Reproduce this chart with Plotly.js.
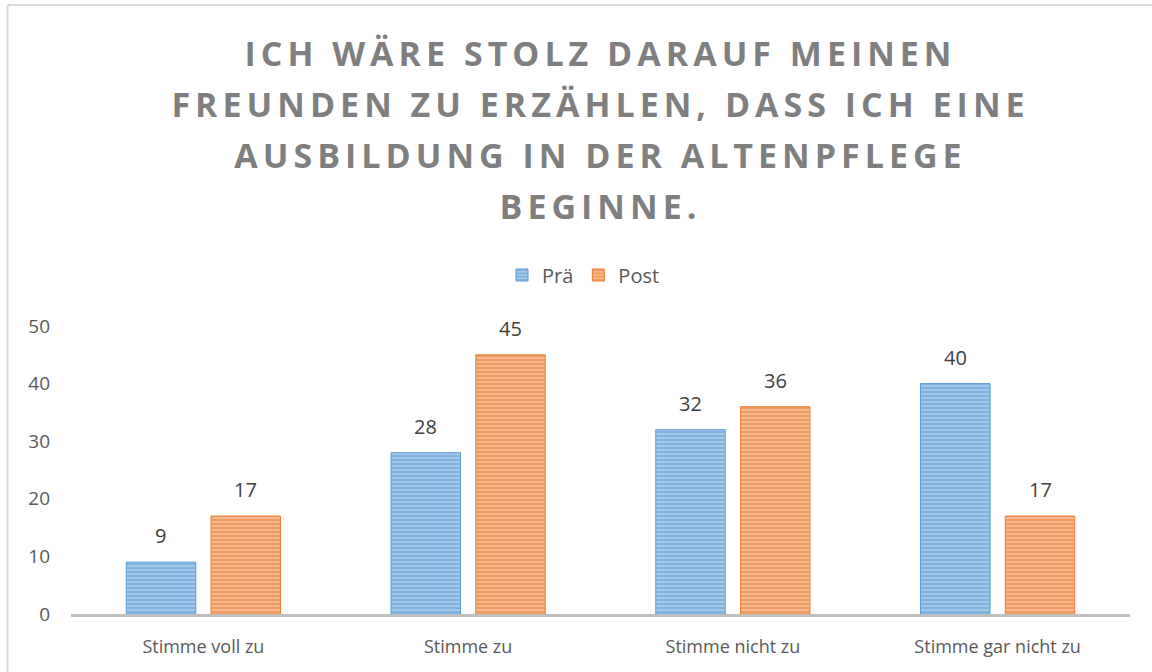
<!DOCTYPE html>
<html>
<head>
<meta charset="utf-8">
<script src="https://cdn.plot.ly/plotly-3.0.1.min.js"></script>
<style>
html, body { margin:0; padding:0; background:#fff; }
#chart { width:1152px; height:672px; }
.gtitle { letter-spacing: 5px; }
</style>
</head>
<body>
<div id="chart"></div>
<script>
const categories = ["Stimme voll zu", "Stimme zu", "Stimme nicht zu", "Stimme gar nicht zu"];
const seriesNames = ["Prä", "Post"];
const praValues = [9, 28, 32, 40];
const postValues = [17, 45, 36, 17];
const yTicks = [0, 10, 20, 30, 40, 50];
const titleText = "ICH WÄRE STOLZ DARAUF MEINEN<br>FREUNDEN ZU ERZÄHLEN, DASS ICH EINE<br>AUSBILDUNG IN DER ALTENPFLEGE<br>BEGINNE.";

const W = 1152, H = 672;
const margin = {l: 70.5, r: 21.5, t: 326, b: 58};
const plotW = W - margin.l - margin.r;
const plotH = H - margin.t - margin.b;
const bargap = 0.36, bargroupgap = 0.18;
const catW = plotW / categories.length;
const slotW = catW * (1 - bargap) / 2;

const font = "Open Sans, Noto Sans, sans-serif";

function mkTrace(name, vals, fg, bg) {
  return {
    type: 'bar', name: name, x: categories, y: vals,
    marker: {
      color: bg,
      line: {color: fg, width: 1},
      pattern: {shape: '-', fgcolor: fg, bgcolor: bg, size: 4, solidity: 0.5, fillmode: 'overlay'}
    },
    hoverinfo: 'none'
  };
}

const traces = [
  mkTrace(seriesNames[0], praValues, '#5B9BD5', '#A4C8EA'),
  mkTrace(seriesNames[1], postValues, '#ED7D31', '#F6B88F')
];

const annotations = [];
[praValues, postValues].forEach((vals, si) => {
  const shift = (si === 0 ? -1 : 1) * slotW / 2;
  vals.forEach((v, i) => {
    annotations.push({
      x: categories[i], y: v, xref: 'x', yref: 'y',
      text: String(v), showarrow: false,
      xshift: shift, yshift: 11, yanchor: 'bottom',
      font: {family: font, size: 20, color: '#404040'}
    });
  });
});

const layout = {
  width: W, height: H,
  margin: margin,
  paper_bgcolor: '#fff', plot_bgcolor: '#fff',
  font: {family: font, color: '#595959'},
  title: {
    text: titleText,
    font: {family: font, size: 34, color: '#7F7F7F', weight: 'bold'},
    x: 0.5, xanchor: 'center', xref: 'paper',
    y: 1 - 66 / H, yanchor: 'top', yref: 'container'
  },
  barmode: 'group', bargap: bargap, bargroupgap: bargroupgap,
  showlegend: true,
  legend: {
    orientation: 'h', x: 0.5 - 17 / plotW, xanchor: 'center',
    y: (H - margin.b - 275) / plotH, yanchor: 'middle',
    font: {family: font, size: 20, color: '#595959'},
    itemwidth: 30, traceorder: 'normal'
  },
  xaxis: {
    type: 'category', showgrid: false, zeroline: false,
    showline: true, linecolor: '#BFBFBF', linewidth: 3,
    ticks: '', ticklabelstandoff: 14,
    tickfont: {family: font, size: 18, color: '#595959'},
    fixedrange: true
  },
  yaxis: {
    range: [0, 50], tickvals: yTicks, showgrid: false, zeroline: false,
    showline: false, ticks: '', ticklabelstandoff: 20,
    tickfont: {family: font, size: 19, color: '#595959'},
    fixedrange: true
  },
  annotations: annotations,
  shapes: [
    {type: 'line', xref: 'paper', yref: 'paper', layer: 'below',
     x0: (7 - margin.l) / plotW, x1: (7 - margin.l) / plotW,
     y0: (H - margin.b - 5) / plotH, y1: (H - margin.b - 700) / plotH,
     line: {color: '#D9D9D9', width: 2}},
    {type: 'line', xref: 'paper', yref: 'paper', layer: 'below',
     x0: (7 - margin.l) / plotW, x1: (1200 - margin.l) / plotW,
     y0: (H - margin.b - 5) / plotH, y1: (H - margin.b - 5) / plotH,
     line: {color: '#D9D9D9', width: 2}}
  ]
};

Plotly.newPlot('chart', traces, layout, {displayModeBar: false, staticPlot: true}).then(gd => {
  // widen title line spacing to match reference (dy is cumulative per line)
  gd.querySelectorAll('.gtitle tspan.line').forEach((t, i) => {
    t.setAttribute('dy', (i * 1.5) + 'em');
  });
});
</script>
</body>
</html>
